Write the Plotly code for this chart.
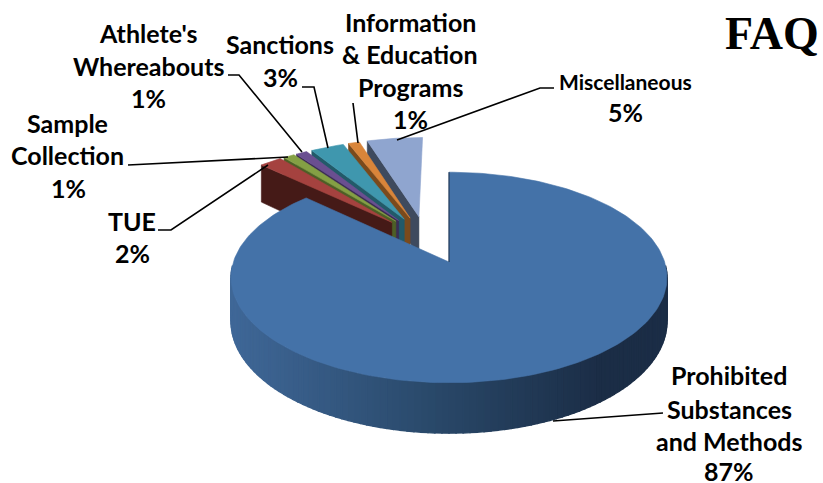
import math
import plotly.graph_objects as go

# ---- data ----
categories = ["Prohibited Substances and Methods", "TUE", "Sample Collection",
              "Athlete's Whereabouts", "Sanctions", "Information & Education Programs",
              "Miscellaneous"]
shares = [87, 2, 1, 1, 3, 1, 5]
top_colors = ["#4472a8", "#a5423f", "#84a044", "#6a4f90", "#3f97ae", "#d9853a", "#8fa5cf"]
wall_colors = ["#1c2e48", "#451a17", "#4d5f26", "#3b2c54", "#225a69", "#7a4a1c", "#3e4a5e"]

label_lines = [
    ("Athlete's", 148, 33, 25), ("Whereabouts", 148, 66, 25), ("1%", 148, 98, 25),
    ("Sanctions", 280, 44, 25), ("3%", 280, 77, 25),
    ("Information", 410, 22, 25), ("& Education", 410, 54, 25), ("Programs", 410, 87, 25), ("1%", 410, 119, 25),
    ("Miscellaneous", 625, 81, 21), ("5%", 625, 112, 25),
    ("Sample", 67, 123, 25), ("Collection", 67, 155, 25), ("1%", 68, 188, 25),
    ("TUE", 132, 221, 25), ("2%", 132, 253, 25),
    ("Prohibited", 729, 375, 25), ("Substances", 729, 409, 25), ("and Methods", 729, 441, 25), ("87%", 729, 471, 25),
]
leaders = [
    [(228, 75), (239, 75), (302, 152)],
    [(302, 87), (314, 87), (328, 148)],
    [(353, 103), (358, 143)],
    [(554, 88), (540, 88), (397, 140)],
    [(128, 165), (288, 157)],
    [(158, 230), (171, 230), (268, 165)],
    [(663, 413), (553, 421)],
]

# ---- projection of the tilted disc ----
CX, CY, F, B, K, DEPTH = 449, 262, 215.6, 103.0, 0.147, 43.0
PULL = 0.49
GROUP_DIR = 336.0
DIR_BLEND = 0.5
GROUP_SHIFT = -0.01


def project(x, z, drop=0.0):
    w = 1 + K * z
    return CX + F * x / w, CY - B * z / w + drop / w


def pt(deg, r=1.0, ox=0.0, oz=0.0, drop=0.0):
    a = math.radians(deg)
    return project(ox + r * math.sin(a), oz + r * math.cos(a), drop)


def poly(points, fill, line=None, width=0.6):
    xs = [p[0] for p in points] + [points[0][0]]
    ys = [p[1] for p in points] + [points[0][1]]
    return go.Scatter(x=xs, y=ys, mode="lines", fill="toself", fillcolor=fill,
                      line=dict(color=line or fill, width=width), hoverinfo="skip", showlegend=False)


def mix(c1, c2, t):
    a = [int(c1[i:i + 2], 16) for i in (1, 3, 5)]
    b = [int(c2[i:i + 2], 16) for i in (1, 3, 5)]
    return "#%02x%02x%02x" % tuple(round(a[i] + (b[i] - a[i]) * t) for i in range(3))


total = sum(shares)
spans = []
start = 0.0
for s in shares:
    end = start + 360.0 * s / total
    spans.append((start, end))
    start = end

fig = go.Figure()

# exploded small slices, far to near: last category first
for i in range(len(shares) - 1, 0, -1):
    a0, a1 = spans[i]
    mid = (a0 + a1) / 2
    d = math.radians(GROUP_DIR + DIR_BLEND * (mid - GROUP_DIR))
    ox, oz = PULL * math.sin(d) + GROUP_SHIFT, PULL * math.cos(d)
    apex = project(ox, oz)
    apex_low = project(ox, oz, DEPTH)
    fig.add_trace(poly([apex, pt(a0, 1, ox, oz), pt(a0, 1, ox, oz, DEPTH), apex_low], wall_colors[i]))
    n = max(3, int(a1 - a0))
    arc = [pt(a0 + (a1 - a0) * j / n, 1, ox, oz) for j in range(n + 1)]
    fig.add_trace(poly([apex] + arc, top_colors[i]))

# main slice: outer wall as gradient strips, front half
a0, a1 = spans[0]
steps = 110
side_left, side_mid, side_right = "#3f6797", "#294869", "#1b2d46"
for j in range(steps):
    t0 = 92 + (268 - 92) * j / steps
    t1 = 92 + (268 - 92) * (j + 1) / steps
    p = [pt(t0), pt(t1), pt(t1, 1, 0, 0, DEPTH), pt(t0, 1, 0, 0, DEPTH)]
    xm = (p[0][0] + p[1][0]) / 2
    u = 1 - min(1, max(0, (600 - xm) / (600 - 233)))
    col = mix(side_left, side_mid, u / 0.55) if u < 0.55 else mix(side_mid, side_right, (u - 0.55) / 0.45)
    fig.add_trace(poly(p, col, width=1.4))

n = 240
arc = [pt(a0 + (a1 - a0) * j / n) for j in range(n + 1)]
fig.add_trace(poly([project(0, 0)] + arc, top_colors[0]))
seam = [project(0, 0), pt(a0)]
fig.add_trace(go.Scatter(x=[p[0] for p in seam], y=[p[1] for p in seam], mode="lines",
                         line=dict(color=wall_colors[0], width=1), hoverinfo="skip", showlegend=False))

# leader lines
for pts in leaders:
    fig.add_trace(go.Scatter(x=[p[0] for p in pts], y=[p[1] for p in pts], mode="lines",
                             line=dict(color="#000000", width=1.6), hoverinfo="skip", showlegend=False))

annotations = [dict(x=x, y=y, xref="x", yref="y", text=f"<b>{t}</b>", showarrow=False,
                    xanchor="center", yanchor="middle",
                    font=dict(family="Lato", size=sz, color="#000000"))
               for t, x, y, sz in label_lines]
annotations.append(dict(x=772, y=33, xref="x", yref="y", text="<b>FAQ</b>", showarrow=False,
                        xanchor="center", yanchor="middle",
                        font=dict(family="Liberation Serif", size=46, color="#000000")))

fig.update_layout(
    width=823, height=483, margin=dict(l=0, r=0, t=0, b=0),
    paper_bgcolor="#ffffff", plot_bgcolor="#ffffff", showlegend=False,
    xaxis=dict(range=[0, 823], visible=False, fixedrange=True),
    yaxis=dict(range=[483, 0], visible=False, fixedrange=True),
    annotations=annotations,
)
fig.write_html("out.html", config={"displayModeBar": False},
               post_script="document.body.style.margin='0';document.documentElement.style.overflow='hidden';")
